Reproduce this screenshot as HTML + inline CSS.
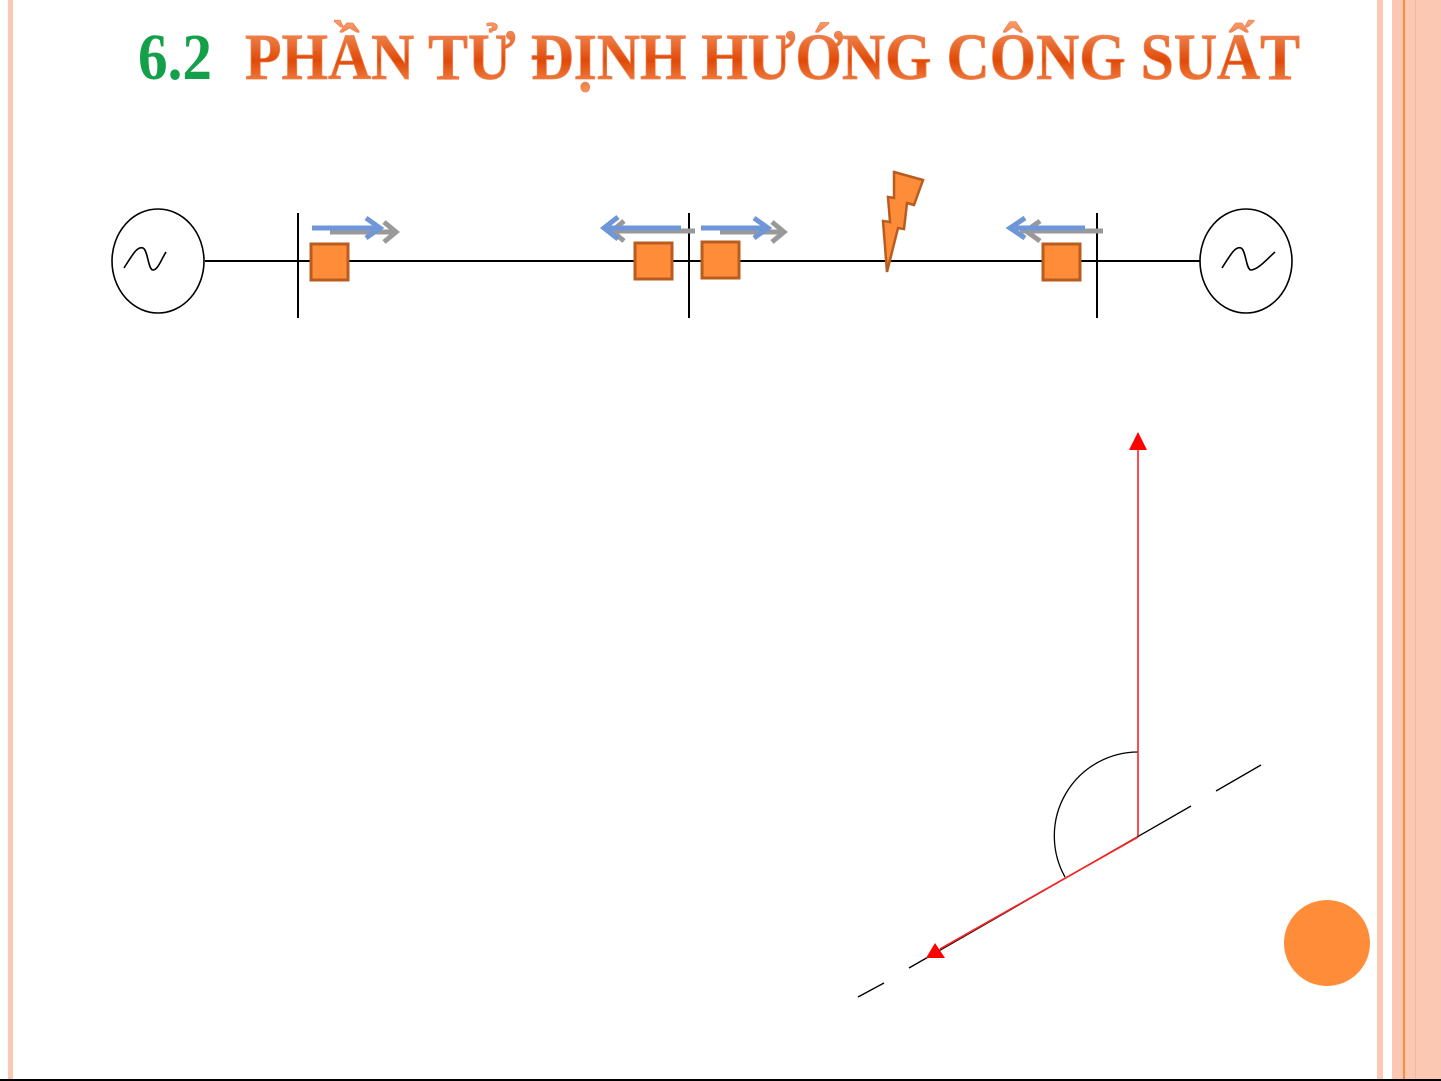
<!DOCTYPE html>
<html><head><meta charset="utf-8"><style>
html,body{margin:0;padding:0;background:#fff}
body{width:1441px;height:1081px;overflow:hidden;position:relative}
</style></head><body>
<svg width="1441" height="1081" viewBox="0 0 1441 1081" xmlns="http://www.w3.org/2000/svg" style="position:absolute;left:0;top:0">
<defs>
<linearGradient id="tg" x1="0" y1="0" x2="0" y2="1">
<stop offset="0" stop-color="#f7a070"/><stop offset="0.55" stop-color="#e04a08"/><stop offset="1" stop-color="#f79a60"/>
</linearGradient>
</defs>
<rect x="8" y="0" width="5" height="1081" fill="#fbc8b4"/>
<rect x="1377" y="0" width="6" height="1081" fill="#fbc8b4"/>
<rect x="1392" y="0" width="49" height="1081" fill="#fbc8b4"/>
<rect x="1403" y="0" width="2" height="1081" fill="#ff8c38"/>
<rect x="1415" y="0" width="1" height="1081" fill="#f8b898"/>
<rect x="0" y="1079" width="1441" height="2" fill="#000"/>
<text x="138" y="79" font-family="Liberation Serif,serif" font-weight="bold" font-size="66" fill="#14a04a" textLength="74" lengthAdjust="spacingAndGlyphs">6.2</text>
<text x="245" y="79" font-family="Liberation Serif,serif" font-weight="bold" font-size="66" fill="url(#tg)" stroke="#f08050" stroke-width="0.8" textLength="1055" lengthAdjust="spacingAndGlyphs">PHẦN TỬ ĐỊNH HƯỚNG CÔNG SUẤT</text>
<g stroke="#000" stroke-width="2" fill="none">
<line x1="205" y1="261" x2="1200" y2="261"/>
<line x1="298" y1="213" x2="298" y2="318"/>
<line x1="689" y1="213" x2="689" y2="318"/>
<line x1="1097" y1="213" x2="1097" y2="318"/>
</g>
<g stroke="#000" stroke-width="1.6" fill="none">
<ellipse cx="158" cy="261" rx="46" ry="52"/>
<path d="M124 268 C134 252 138 246 143 248 C148 250 148 270 153 270 C158 270 162 258 166 252"/>
<ellipse cx="1246" cy="261" rx="46" ry="52"/>
<path d="M1222 268 C1232 252 1236 246 1241 248 C1246 250 1246 270 1251 270 C1258 270 1268 258 1275 252"/>
</g>
<g stroke="#999" stroke-width="5" fill="none">
<line x1="330" y1="232" x2="395" y2="232"/><polyline points="384,222 396,232 384,242"/>
<line x1="613" y1="231" x2="695" y2="231"/><polyline points="624,221 612,231 624,241"/>
<line x1="720" y1="232" x2="783" y2="232"/><polyline points="772,222 784,232 772,242"/>
<line x1="1020" y1="231" x2="1103" y2="231"/><polyline points="1040,221 1026,231 1040,241"/>
</g>
<g stroke="#6f96d8" stroke-width="5" fill="none">
<line x1="312" y1="228" x2="380" y2="228"/><polyline points="366,218 380,228 366,238"/>
<line x1="606" y1="228" x2="681" y2="228"/><polyline points="618,217 604,228 618,239"/>
<line x1="701" y1="228" x2="769" y2="228"/><polyline points="754,218 768,228 754,238"/>
<line x1="1015" y1="228" x2="1085" y2="228"/><polyline points="1025,218 1010,228 1025,238"/>
</g>
<g fill="#ff8c38" stroke="#b85c20" stroke-width="3">
<rect x="311" y="244" width="37" height="36"/>
<rect x="635" y="243" width="37" height="36"/>
<rect x="702" y="242" width="37" height="36"/>
<rect x="1043" y="244" width="37" height="36"/>
</g>
<polygon points="894,172 923,180 914,205 907,203 904,229 898,228 887,272 883,221 890,222 888,197 894,198" fill="#ff8c38" stroke="#b85c20" stroke-width="2.5"/>
<g stroke="#000" stroke-width="1.3" fill="none">
<line x1="858" y1="997" x2="884" y2="983"/>
<line x1="909" y1="968" x2="1191" y2="806"/>
<line x1="1216" y1="791" x2="1261" y2="765"/>
<path d="M1138 752 A84 84 0 0 0 1065 877"/>
</g>
<g stroke="#ff2020" stroke-width="1.6">
<line x1="1138" y1="836" x2="1138" y2="445"/>
<line x1="1138" y1="837" x2="940" y2="949"/>
</g>
<polygon points="1138,432 1129,450 1147,450" fill="#f00"/>
<polygon points="935,943 926,958 945,958" fill="#f00"/>
<circle cx="1327" cy="943" r="43" fill="#ff8c38"/>
</svg>
</body></html>
